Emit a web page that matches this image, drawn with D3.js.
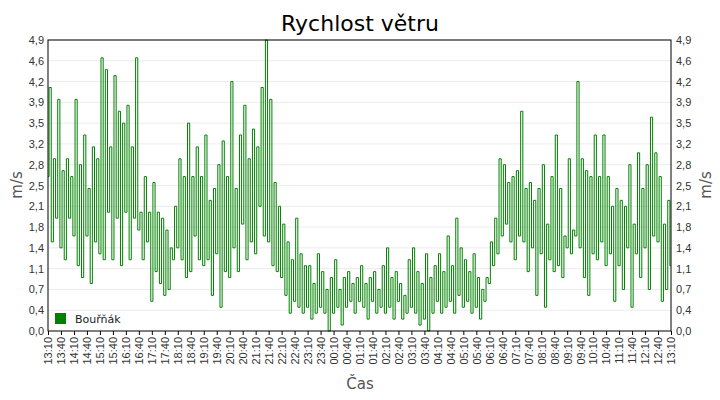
<!DOCTYPE html>
<html><head><meta charset="utf-8">
<script src="https://cdn.jsdelivr.net/npm/d3@7"></script>
<style>body{margin:0;background:#fff}svg{font-family:"DejaVu Sans",sans-serif}</style>
</head><body><div id="chart"></div>
<script>
// wind speed, 5 minute samples from 13:10 to 13:10 next day
var speed = [
 2.6,4.1,1.5,2.9,1.9,3.9,1.4,2.7,1.2,2.9,1.9,2.6,
 1.6,3.9,1.1,2.8,0.9,3.3,1.6,2.4,0.8,3.1,1.5,2.9,
 1.3,4.6,1.2,4.4,2.0,3.1,1.2,4.3,1.9,3.7,1.1,3.5,
 2.0,3.8,1.2,3.1,1.9,4.6,1.7,2.0,1.2,2.6,1.5,2.0,
 0.5,2.5,1.0,2.0,0.8,1.9,0.6,1.7,0.7,1.4,1.2,2.1,
 1.4,2.9,1.2,2.6,0.9,3.5,1.0,2.6,1.6,3.1,1.2,2.6,
 1.1,3.3,1.2,2.2,0.6,2.4,1.3,2.8,0.4,3.2,1.0,2.6,
 0.9,4.2,1.4,2.4,1.0,3.3,1.8,3.8,1.2,2.9,1.5,3.4,
 1.3,3.1,2.1,4.1,1.6,4.9,1.5,3.9,1.1,2.5,1.0,2.1,
 0.9,1.8,0.6,1.5,0.3,1.2,0.5,1.9,0.4,1.3,0.3,1.1,
 0.4,1.1,0.2,0.8,0.3,1.3,0.4,1.0,0.3,0.7,0.0,0.9,
 0.3,1.2,0.4,0.7,0.1,0.9,0.4,1.0,0.5,0.8,0.3,0.9,
 0.5,1.1,0.4,0.8,0.2,0.9,0.5,1.0,0.3,0.7,0.4,1.1,
 0.3,1.4,0.4,0.9,0.2,1.0,0.5,0.8,0.2,0.6,0.3,1.2,
 0.4,1.4,0.3,1.0,0.1,0.8,0.2,1.3,0.0,0.9,0.3,1.1,
 0.5,1.3,0.3,1.0,0.4,1.6,0.5,1.1,0.3,1.9,0.6,1.4,
 0.4,1.2,0.5,1.0,0.3,1.3,0.4,0.9,0.2,0.7,0.5,0.9,
 0.8,1.5,1.1,1.9,1.3,2.9,1.6,2.8,1.8,2.5,1.5,2.6,
 1.2,2.7,1.6,3.7,1.5,2.4,1.0,2.5,1.4,2.2,0.6,2.4,
 1.3,2.8,0.4,1.8,1.2,2.6,1.0,3.3,1.1,2.4,0.9,1.6,
 1.4,2.9,1.3,1.7,1.6,4.2,1.4,2.9,0.9,2.7,0.6,2.6,
 1.3,3.3,1.2,2.6,1.5,3.3,1.1,2.6,1.3,2.1,0.5,2.4,
 1.1,2.2,0.7,2.1,1.4,2.8,0.4,1.8,1.3,3.0,0.9,2.4,
 1.4,2.8,0.7,3.6,1.6,3.0,1.5,2.6,0.5,1.8,0.7,2.2,
 1.1];
var yTickLabels = ["0,0","0,4","0,7","1,1","1,4","1,8","2,1","2,5","2,8","3,2","3,5","3,9","4,2","4,6","4,9"];
var seriesName = "Bouřňák";

var W = 720, H = 400, m = {l: 48, r: 49, t: 40, b: 69};
var t0 = new Date(2020, 0, 1, 13, 10);
var times = speed.map(function(v, i){ return new Date(t0.getTime() + i * 5 * 60000); });
var tEnd = times[times.length - 1];

var svg = d3.select("#chart").append("svg").attr("width", W).attr("height", H);
var x = d3.scaleTime().domain([t0, tEnd]).range([m.l, W - m.r]);
var y = d3.scaleLinear().domain([0, 4.9]).range([H - m.b, m.t]);
var yTicks = yTickLabels.map(function(d, i){ return i * 4.9 / 14; });

svg.append("g").selectAll("line").data(yTicks.slice(1)).enter().append("line")
	.attr("x1", m.l).attr("x2", W - m.r).attr("y1", y).attr("y2", y)
	.attr("stroke", "#ebebeb");

var line = d3.line().curve(d3.curveStep)
	.x(function(d, i){ return x(times[i]); }).y(function(d){ return y(d); });
svg.append("path").datum(speed).attr("d", line).attr("fill", "none")
	.attr("stroke", "#008000").attr("stroke-width", 1);

var yl = d3.axisLeft(y).tickValues(yTicks).tickSize(0).tickPadding(4)
	.tickFormat(function(d, i){ return yTickLabels[i]; });
var yr = d3.axisRight(y).tickValues(yTicks).tickSize(0).tickPadding(5)
	.tickFormat(function(d, i){ return yTickLabels[i]; });
var xTicks = d3.range(0, 49).map(function(i){ return new Date(t0.getTime() + i * 30 * 60000); });
var xa = d3.axisBottom(x).tickValues(xTicks).tickSize(4).tickFormat(d3.timeFormat("%H:%M"));

function style(g){
	g.select(".domain").remove();
	g.selectAll("text").attr("fill", "#333").style("font-size", "11px");
	g.selectAll("line").attr("stroke", "#000");
}
svg.append("g").attr("transform", "translate(" + m.l + ",0)").call(yl).call(style);
svg.append("g").attr("transform", "translate(" + (W - m.r) + ",0)").call(yr).call(style);
var gx = svg.append("g").attr("transform", "translate(0," + (H - m.b) + ")").call(xa).call(style);
gx.selectAll("text").attr("transform", "rotate(-90)").attr("text-anchor", "end")
	.attr("x", -6).attr("y", 0).attr("dy", "0.35em");

svg.append("rect").attr("x", m.l).attr("y", m.t).attr("width", W - m.l - m.r)
	.attr("height", H - m.t - m.b).attr("fill", "none").attr("stroke", "#000");

svg.append("text").attr("x", 360).attr("y", 31).attr("text-anchor", "middle")
	.style("font-size", "22px").text("Rychlost větru");
svg.append("text").attr("x", 360).attr("y", 389).attr("text-anchor", "middle")
	.attr("fill", "#555").style("font-size", "15px").text("Čas");
svg.append("text").attr("transform", "translate(22,185) rotate(-90)").attr("text-anchor", "middle")
	.attr("fill", "#555").style("font-size", "15px").text("m/s");
svg.append("text").attr("transform", "translate(711,185) rotate(-90)").attr("text-anchor", "middle")
	.attr("fill", "#555").style("font-size", "15px").text("m/s");

svg.append("rect").attr("x", 55).attr("y", 313).attr("width", 11).attr("height", 11).attr("fill", "#008000");
svg.append("text").attr("x", 75).attr("y", 323).style("font-size", "11px").attr("fill", "#222").text(seriesName);
</script></body></html>
